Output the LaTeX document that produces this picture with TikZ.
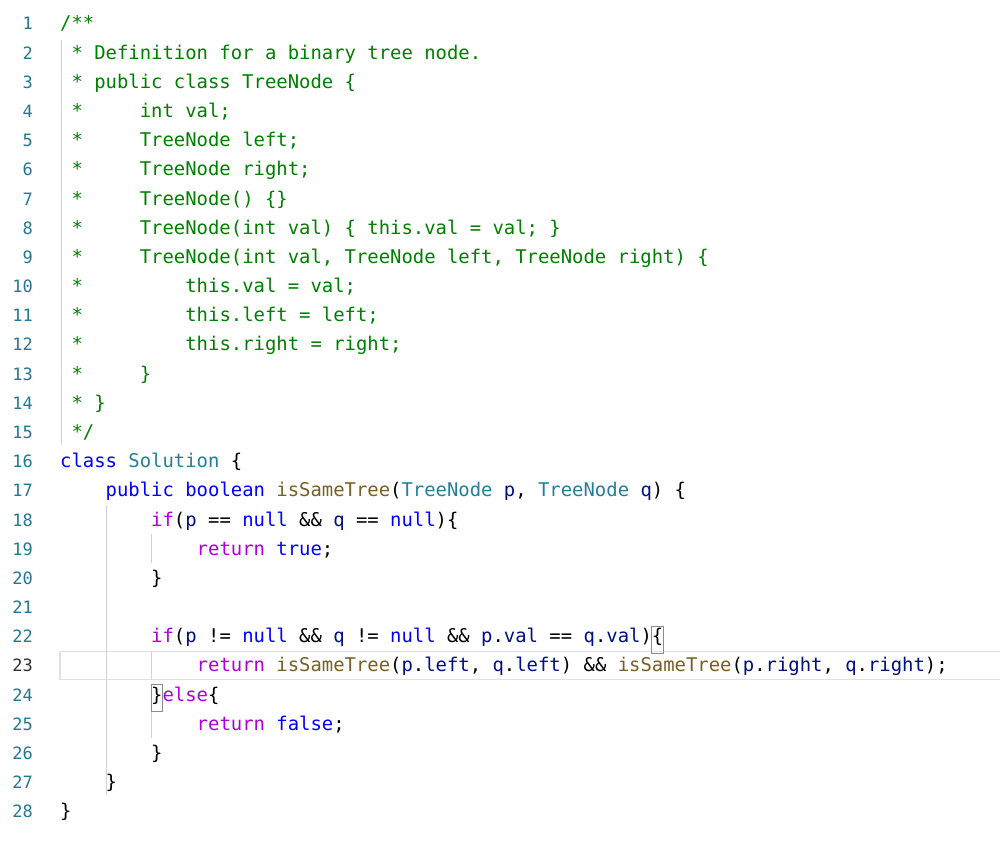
\documentclass[tikz,border=0pt]{standalone}
\usepackage{fontspec}
\newfontfamily\code{DejaVu Sans Mono}[WordSpace={1,0,0}]
\definecolor{cm}{HTML}{008000}
\definecolor{kwc}{HTML}{AF00DB}
\definecolor{blc}{HTML}{0000FF}
\definecolor{tyc}{HTML}{267F99}
\definecolor{fnc}{HTML}{795E26}
\definecolor{vrc}{HTML}{001080}
\definecolor{lnc}{HTML}{237893}
\definecolor{guide}{HTML}{D3D3D3}
\newcommand{\Kw}[1]{\textcolor{kwc}{#1}}
\newcommand{\Bl}[1]{\textcolor{blc}{#1}}
\newcommand{\Ty}[1]{\textcolor{tyc}{#1}}
\newcommand{\Fn}[1]{\textcolor{fnc}{#1}}
\newcommand{\Vr}[1]{\textcolor{vrc}{#1}}
\begin{document}
\begin{tikzpicture}[x=1pt,y=-1pt,
  ln/.style={anchor=base east,inner sep=0,text=lnc,font=\code\fontsize{17}{20}\selectfont},
  cl/.style={anchor=base west,inner sep=0,font=\code\fontsize{18.9}{22}\selectfont}]
\useasboundingbox[fill=white] (0,0) rectangle (1000,845);
% current line highlight
\draw[guide!70,line width=1.2pt] (60,651.5) -- (1000,651.5) (60,679.5) -- (1000,679.5) (60,651.5) -- (60,679.5);
% indent guides
\draw[guide,line width=1pt] (61,40) -- (61,445);
\draw[guide,line width=1pt] (106,505) -- (106,795);
\draw[guide,line width=1pt] (151,534) -- (151,563) (151,651) -- (151,680) (151,709) -- (151,738);
\foreach \n in {1,...,28}{
  \pgfmathsetmacro{\yy}{30+29.18*(\n-1)}
  \ifnum\n=23
    \node[ln,text=black!80] (n\n) at (33,\yy) {\n};
  \else
    \node[ln] (n\n) at (33,\yy) {\n};
  \fi
}
\def\Y#1{30+29.18*(#1-1)}
\node[cl,text=cm] (l1) at (60,{\Y{1}}) {/**};
\node[cl,text=cm] (l2) at (60,{\Y{2}}) {~*~Definition~for~a~binary~tree~node.};
\node[cl,text=cm] (l3) at (60,{\Y{3}}) {~*~public~class~TreeNode~\{};
\node[cl,text=cm] (l4) at (60,{\Y{4}}) {~*~~~~~int~val;};
\node[cl,text=cm] (l5) at (60,{\Y{5}}) {~*~~~~~TreeNode~left;};
\node[cl,text=cm] (l6) at (60,{\Y{6}}) {~*~~~~~TreeNode~right;};
\node[cl,text=cm] (l7) at (60,{\Y{7}}) {~*~~~~~TreeNode()~\{\}};
\node[cl,text=cm] (l8) at (60,{\Y{8}}) {~*~~~~~TreeNode(int~val)~\{~this.val~=~val;~\}};
\node[cl,text=cm] (l9) at (60,{\Y{9}}) {~*~~~~~TreeNode(int~val,~TreeNode~left,~TreeNode~right)~\{};
\node[cl,text=cm] (l10) at (60,{\Y{10}}) {~*~~~~~~~~~this.val~=~val;};
\node[cl,text=cm] (l11) at (60,{\Y{11}}) {~*~~~~~~~~~this.left~=~left;};
\node[cl,text=cm] (l12) at (60,{\Y{12}}) {~*~~~~~~~~~this.right~=~right;};
\node[cl,text=cm] (l13) at (60,{\Y{13}}) {~*~~~~~\}};
\node[cl,text=cm] (l14) at (60,{\Y{14}}) {~*~\}};
\node[cl,text=cm] (l15) at (60,{\Y{15}}) {~*/};
\node[cl] (l16) at (60,{\Y{16}}) {\Bl{class}~\Ty{Solution}~\{};
\node[cl] (l17) at (60,{\Y{17}}) {~~~~\Bl{public}~\Bl{boolean}~\Fn{isSameTree}(\Ty{TreeNode}~\Vr{p},~\Ty{TreeNode}~\Vr{q})~\{};
\node[cl] (l18) at (60,{\Y{18}}) {~~~~~~~~\Kw{if}(\Vr{p}~==~\Bl{null}~\&\&~\Vr{q}~==~\Bl{null})\{};
\node[cl] (l19) at (60,{\Y{19}}) {~~~~~~~~~~~~\Kw{return}~\Bl{true};};
\node[cl] (l20) at (60,{\Y{20}}) {~~~~~~~~\}};
\node[cl] (l22) at (60,{\Y{22}}) {~~~~~~~~\Kw{if}(\Vr{p}~!=~\Bl{null}~\&\&~\Vr{q}~!=~\Bl{null}~\&\&~\Vr{p}.\Vr{val}~==~\Vr{q}.\Vr{val})\{};
\node[cl] (l23) at (60,{\Y{23}}) {~~~~~~~~~~~~\Kw{return}~\Fn{isSameTree}(\Vr{p}.\Vr{left},~\Vr{q}.\Vr{left})~\&\&~\Fn{isSameTree}(\Vr{p}.\Vr{right},~\Vr{q}.\Vr{right});};
\node[cl] (l24) at (60,{\Y{24}}) {~~~~~~~~\}\Kw{else}\{};
\node[cl] (l25) at (60,{\Y{25}}) {~~~~~~~~~~~~\Kw{return}~\Bl{false};};
\node[cl] (l26) at (60,{\Y{26}}) {~~~~~~~~\}};
\node[cl] (l27) at (60,{\Y{27}}) {~~~~\}};
\node[cl] (l28) at (60,{\Y{28}}) {\}};
% bracket match boxes
\draw[black!45,line width=0.8pt] (l22.north east) ++(-11.7,-2) rectangle ++(11.2,27);
\draw[black!45,line width=0.8pt] ([xshift=91]l24.north west) ++(0,-2) rectangle ++(11.2,27);
\end{tikzpicture}
\end{document}
